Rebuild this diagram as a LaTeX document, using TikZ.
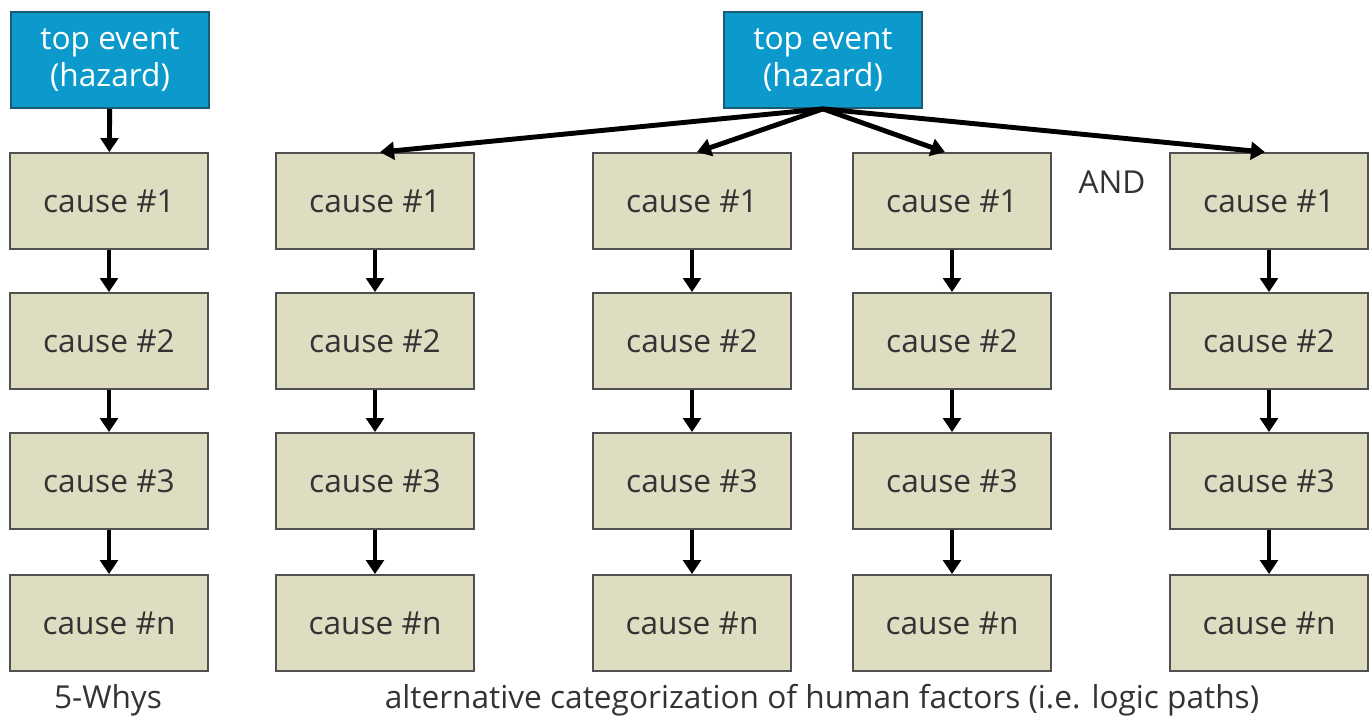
\documentclass[tikz,border=0pt]{standalone}
\usepackage{fontspec}
\setmainfont{Open Sans}
\usetikzlibrary{arrows.meta}

\definecolor{hazardblue}{HTML}{0B9ACB}
\definecolor{hazardline}{HTML}{1D5A73}
\definecolor{causefill}{HTML}{DEDDC2}
\definecolor{causeline}{HTML}{505050}
\definecolor{textgray}{HTML}{333333}

\tikzset{
    topbox/.style={draw=hazardline, line width=1pt, fill=hazardblue, text=white,
        minimum width=3.96cm, minimum height=1.92cm, align=center,
        font=\fontsize{18}{21}\selectfont},
    causebox/.style={draw=causeline, line width=1pt, fill=causefill, text=textgray,
        minimum width=3.96cm, minimum height=1.92cm,
        font=\fontsize{18}{21}\selectfont},
    link/.style={line width=2.8pt, -{Triangle[length=8pt, width=10pt]}},
    caption/.style={text=textgray, font=\fontsize{18}{21}\selectfont}
}

\begin{document}
\begin{tikzpicture}[x=0.02cm, y=-0.02cm]

        \useasboundingbox (0, 0) rectangle (1370, 720);

        % ---------------------------------------------------
        % 1. Top events
        % ---------------------------------------------------

        % 5-Whys top event
        \node[topbox] (topA) at (110, 60) {top event\\(hazard)};

        % Fault tree top event
        \node[topbox] (topB) at (823, 60) {top event\\(hazard)};

        % ---------------------------------------------------
        % 2. Cause columns (a = 5-Whys, b..e = logic paths)
        % ---------------------------------------------------
        \foreach \col/\x in {a/109, b/375, c/692, d/952, e/1269} {
            \node[causebox] (\col1) at (\x, 201) {cause \#1};
            \node[causebox] (\col2) at (\x, 341) {cause \#2};
            \node[causebox] (\col3) at (\x, 481) {cause \#3};
            \node[causebox] (\col4) at (\x, 623) {cause \#n};
            % chain downwards
            \draw[link] (\col1) -- (\col2);
            \draw[link] (\col2) -- (\col3);
            \draw[link] (\col3) -- (\col4);
        }

        % ---------------------------------------------------
        % 3. Links from the top events
        % ---------------------------------------------------
        \draw[link] (topA) -- (a1);
        \draw[link] (topB.south) -- ([xshift=0.1cm]b1.north);
        \draw[link] (topB.south) -- ([xshift=0.1cm]c1.north);
        \draw[link] (topB.south) -- ([xshift=-0.14cm]d1.north);
        \draw[link] (topB.south) -- ([xshift=-0.08cm]e1.north);

        % ---------------------------------------------------
        % 4. Labels
        % ---------------------------------------------------
        \node[caption] (andgate) at (1112, 182) {AND};
        \node[caption] (whys) at (108, 700) {5-Whys};
        \node[caption] (paths) at (822, 700) {alternative categorization of human factors (i.e. logic paths)};

    \end{tikzpicture}
\end{document}
